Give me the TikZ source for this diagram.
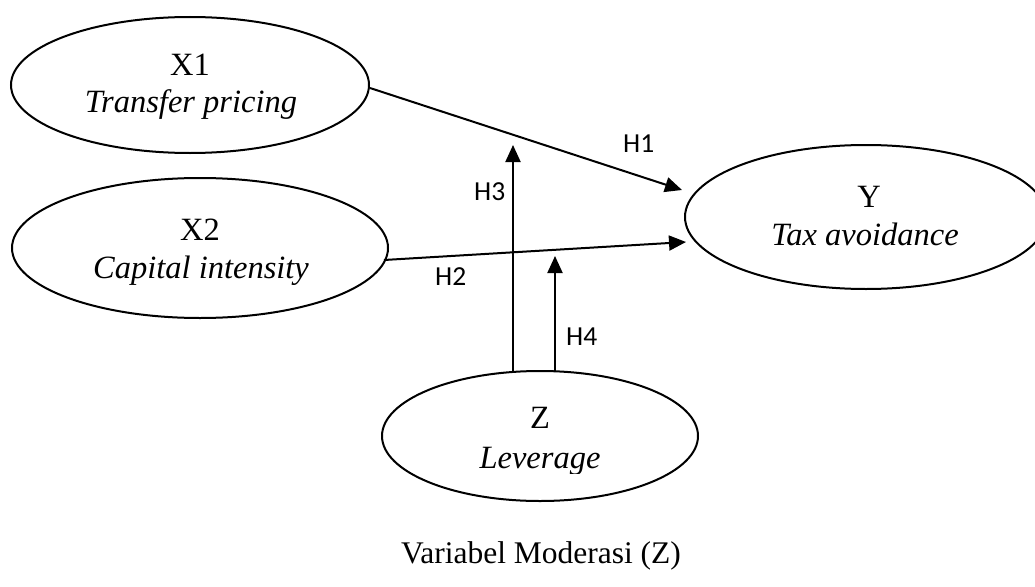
\documentclass[tikz,border=0pt]{standalone}
\usepackage{fontspec}
\setmainfont{Liberation Serif}
\newfontfamily\hfont{Carlito}
\usetikzlibrary{arrows.meta,shapes.geometric,calc}
\tikzset{
  var/.style={draw,ellipse,line width=2pt,inner sep=0pt},
  vtext/.style={anchor=base,inner sep=0pt,font=\fontsize{32.5}{38}\selectfont},
  htext/.style={anchor=base west,inner sep=0pt,font=\hfont\fontsize{27.5}{32}\selectfont},
  link/.style={line width=2pt,-{Triangle[length=17pt,width=15pt]}}
}
\begin{document}
\begin{tikzpicture}[x=1pt,y=-1pt]
\useasboundingbox (0,0) rectangle (1035,586);
\begin{scope}
\clip (0,0) rectangle (1035,586);
\node[var,minimum width=358pt,minimum height=136pt] (X1) at (190,85) {};
\node[var,minimum width=376pt,minimum height=140pt] (X2) at (200,248) {};
\node[var,minimum width=362pt,minimum height=144pt] (Y) at (866,217) {};
\node[var,minimum width=316pt,minimum height=130pt] (Z) at (540,436) {};
\end{scope}
\node[vtext] (x1a) at (190,75) {X1};
\node[vtext] (x1b) at (191,112) {\itshape Transfer pricing};
\node[vtext] (x2a) at (200,240) {X2};
\node[vtext] (x2b) at (201,278) {\itshape Capital intensity};
\node[vtext] (ya) at (869,207) {Y};
\node[vtext] (yb) at (865,245) {\itshape Tax avoidance};
\node[vtext] (za) at (540,428) {Z};
\begin{scope}
\clip (380,440) rectangle (700,473);
\node[vtext] (zb) at (540,468) {\itshape Leverage};
\end{scope}
\node[vtext,font=\fontsize{31.5}{37}\selectfont] (cap) at (541,563) {Variabel Moderasi (Z)};
\coordinate (h3end) at (513,145);
\coordinate (h4end) at (555,256);
\draw[link] (X1.east |- 0,88) -- ($(Y.west)+(-2,-27)$);
\draw[link] ($(X2.east)+(-5,12)$) -- ($(Y.west)+(2,25)$);
\draw[link] ($(Z.north)+(-27,1)$) -- (h3end);
\draw[link] ($(Z.north)+(15,1)$) -- (h4end);
\node[htext] (H1) at (623,152) {H1};
\node[htext] (H2) at (435,285) {H2};
\node[htext] (H3) at (474,200) {H3};
\node[htext] (H4) at (566,345) {H4};
\end{tikzpicture}
\end{document}
